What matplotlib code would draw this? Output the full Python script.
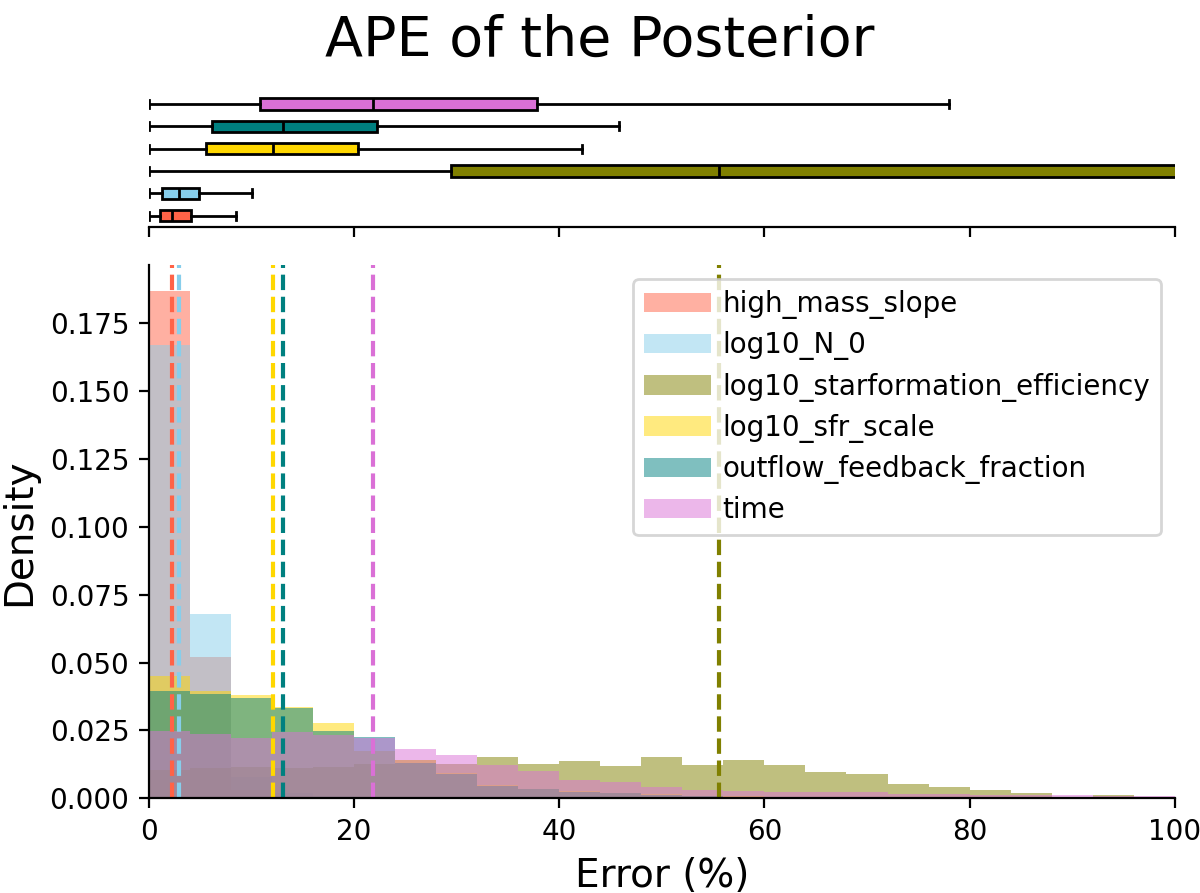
import numpy as np
import matplotlib
matplotlib.use("Agg")
import matplotlib.pyplot as plt

labels = ['high_mass_slope', 'log10_N_0', 'log10_starformation_efficiency',
          'log10_sfr_scale', 'outflow_feedback_fraction', 'time']
colors = ['tomato', 'skyblue', 'olive', 'gold', 'teal', 'orchid']

# histogram bins (width 4, 0..100) and densities
bin_edges = np.arange(0, 101, 4)
dens_hms = [0.187, 0.052, 0.003, 0.001, 0.0006, 0.0004, 0.0003, 0.0002, 0.0002, 0.0001,
            0.0001, 0, 0, 0, 0, 0, 0, 0, 0, 0, 0, 0, 0, 0, 0]
dens_n0 = [0.167, 0.068, 0.008, 0.002, 0.001, 0.0006, 0.0004, 0.0003, 0.0002, 0.0001,
           0.0001, 0, 0, 0, 0, 0, 0, 0, 0, 0, 0, 0, 0, 0, 0]
dens_sfe = [0.0105, 0.0111, 0.0117, 0.0113, 0.0117, 0.0128, 0.0140, 0.0126, 0.0153, 0.0126,
            0.0136, 0.0120, 0.0153, 0.0121, 0.0141, 0.0121, 0.0096, 0.0088, 0.0054, 0.0040,
            0.0030, 0.0018, 0.0006, 0.0011, 0.0006]
dens_sfr = [0.0451, 0.0396, 0.0380, 0.0338, 0.0279, 0.0175, 0.0140, 0.0095, 0.0049, 0.0036,
            0.0028, 0.0021, 0.0015, 0.0010, 0.0007, 0.0005, 0.0004, 0.0003, 0.0003, 0.0002,
            0.0002, 0.0001, 0.0001, 0.0001, 0.0001]
dens_off = [0.0396, 0.0383, 0.0369, 0.0332, 0.0249, 0.0226, 0.0130, 0.0090, 0.0045, 0.0033,
            0.0025, 0.0019, 0.0014, 0.0009, 0.0006, 0.0005, 0.0004, 0.0003, 0.0002, 0.0002,
            0.0001, 0.0001, 0.0001, 0.0001, 0.0001]
dens_time = [0.0249, 0.0236, 0.0222, 0.0245, 0.0234, 0.0222, 0.0182, 0.0158, 0.0123, 0.0099,
             0.0069, 0.0062, 0.0043, 0.0031, 0.0028, 0.0025, 0.0025, 0.0025, 0.0016, 0.0015,
             0.0013, 0.0011, 0.0013, 0.0008, 0.0008]
densities = [dens_hms, dens_n0, dens_sfe, dens_sfr, dens_off, dens_time]

# box stats (same order as labels)
whislo = [0, 0, 0, 0, 0, 0]
q1 = [1.1, 1.3, 29.5, 5.6, 6.2, 10.8]
med = [2.3, 2.9, 55.6, 12.1, 13.1, 21.9]
q3 = [4.1, 4.9, 110, 20.4, 22.2, 37.8]
whishi = [8.5, 10.1, 180, 42.2, 45.8, 78.0]

fig = plt.figure(figsize=(6, 4.465), dpi=200)
ax_box = fig.add_axes([0.124, 0.746, 0.855, 0.150])
ax = fig.add_axes([0.124, 0.106, 0.855, 0.597])

# boxplots on top
stats = []
for i in range(len(labels)):
    stats.append(dict(whislo=whislo[i], q1=q1[i], med=med[i], q3=q3[i], whishi=whishi[i]))
bp = ax_box.bxp(stats, vert=False, showfliers=False, patch_artist=True,
                medianprops=dict(color='black'), capwidths=0.35)
for patch, c in zip(bp['boxes'], colors):
    patch.set_facecolor(c)
ax_box.set_xlim(0, 100)
ax_box.set_ylim(0.5, 6.5)
ax_box.set_yticks([])
ax_box.set_xticks([0, 20, 40, 60, 80, 100])
ax_box.set_xticklabels([])
for s in ['top', 'left', 'right']:
    ax_box.spines[s].set_visible(False)

# histograms
centers = (bin_edges[:-1] + bin_edges[1:]) / 2
for d, c, lab in zip(densities, colors, labels):
    ax.hist(centers, bins=bin_edges, weights=d, color=c, alpha=0.5, label=lab)
for m, c in zip(med, colors):
    ax.axvline(m, color=c, linestyle='--', linewidth=1.5)

ax.set_xlim(0, 100)
ax.set_xlabel('Error (%)', fontsize=14)
ax.set_ylabel('Density', fontsize=14)
ax.spines['top'].set_visible(False)
ax.spines['right'].set_visible(False)
ax.legend(loc='upper right', handlelength=2.4, handletextpad=0.4, labelspacing=0.44)

fig.suptitle('APE of the Posterior', fontsize=20, y=0.985)

fig.savefig('out.png', dpi=200)
